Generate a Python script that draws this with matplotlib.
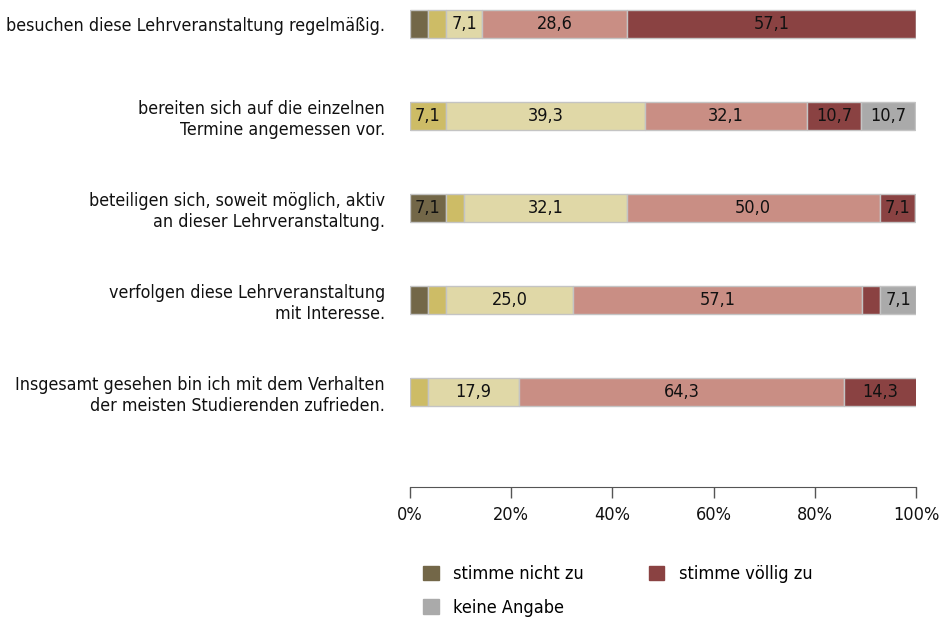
import matplotlib.pyplot as plt
import matplotlib.patches as mpatches
from matplotlib.ticker import FuncFormatter

plt.rcParams['font.family'] = ['DejaVu Sans']
plt.rcParams['font.stretch'] = 'condensed'

# Statements (top to bottom)
statements = [
    "besuchen diese Lehrveranstaltung regelmäßig.",
    "bereiten sich auf die einzelnen\nTermine angemessen vor.",
    "beteiligen sich, soweit möglich, aktiv\nan dieser Lehrveranstaltung.",
    "verfolgen diese Lehrveranstaltung\nmit Interesse.",
    "Insgesamt gesehen bin ich mit dem Verhalten\nder meisten Studierenden zufrieden.",
]

# percentages per answer level
stimme_nicht_zu = [3.6, 0.0, 7.1, 3.6, 0.0]
level_2 = [3.6, 7.1, 3.6, 3.6, 3.6]
level_3 = [7.1, 39.3, 32.1, 25.0, 17.9]
level_4 = [28.6, 32.1, 50.0, 57.1, 64.3]
stimme_voellig_zu = [57.1, 10.7, 7.1, 3.6, 14.3]
keine_angabe = [0.0, 10.7, 0.0, 7.1, 0.0]

series = [stimme_nicht_zu, level_2, level_3, level_4, stimme_voellig_zu, keine_angabe]
names = ["stimme nicht zu", None, None, None, "stimme völlig zu", "keine Angabe"]
colors = ["#736748", "#cdbc66", "#e0d8a7", "#c98e84", "#8a4242", "#aaaaaa"]

fig = plt.figure(figsize=(9.4, 6.19), dpi=100)
ax = fig.add_axes([410 / 940, 1 - 487 / 619, 506 / 940, 487 / 619])

y = list(range(len(statements)))
left = [0.0] * len(statements)
for vals, col in zip(series, colors):
    ax.barh(y, vals, left=left, height=0.3, color=col,
            edgecolor="#c4c4c4", linewidth=1)
    for i, v in enumerate(vals):
        if v >= 7:
            ax.text(left[i] + v / 2, i, f"{v:.1f}".replace(".", ","),
                    ha="center", va="center", fontsize=13, color="#111111")
    left = [l + v for l, v in zip(left, vals)]

ax.set_xlim(0, 100)
ax.set_ylim(5.03, -0.26)
ax.set_yticks(y)
ax.set_yticklabels(statements, fontsize=12.75, color="#111111")
ax.tick_params(axis="y", length=0, pad=18)
ax.set_xticks([0, 20, 40, 60, 80, 100])
ax.xaxis.set_major_formatter(FuncFormatter(lambda v, p: f"{v:.0f}%"))
ax.tick_params(axis="x", length=8, width=1, color="#555555",
               labelsize=13, labelcolor="#111111", pad=6)

for s in ["top", "right", "left"]:
    ax.spines[s].set_visible(False)
ax.spines["bottom"].set_color("#555555")

handles = [mpatches.Patch(color=colors[0], label=names[0]),
           mpatches.Patch(color=colors[5], label=names[5]),
           mpatches.Patch(color=colors[4], label=names[4])]
fig.legend(handles=handles, ncol=2, loc="upper left",
           bbox_to_anchor=(416 / 940, 1 - 558 / 619), frameon=False,
           fontsize=13, handlelength=0.85, handleheight=0.85,
           handletextpad=0.8, columnspacing=3.6, labelspacing=0.85,
           borderaxespad=0)

fig.savefig("out.png", dpi=100)
